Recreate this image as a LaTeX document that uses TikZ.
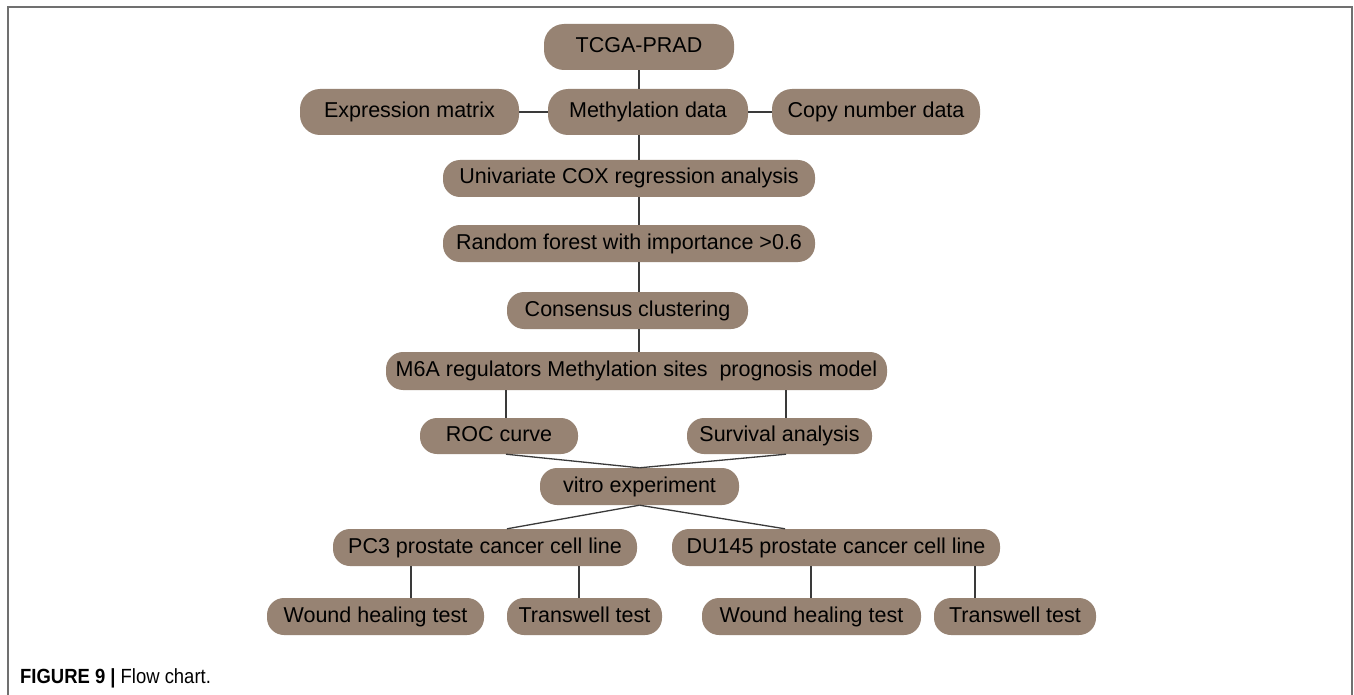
\documentclass[tikz,border=0pt]{standalone}
\usepackage{fontspec}
\setmainfont{Liberation Sans}
\newfontfamily\capfont[FakeStretch=0.9]{Liberation Sans}
\definecolor{boxfill}{HTML}{978373}
\definecolor{linecol}{HTML}{3A3A3A}
\definecolor{framecol}{HTML}{707070}
\begin{document}
\begin{tikzpicture}[x=1pt,y=-1pt,
  pill/.style={fill=boxfill, draw=none, rounded corners=17pt, inner sep=0pt,
    font=\fontsize{21.5}{25}\selectfont, text=black, text height=15.5pt, text depth=4.5pt},
  tallpill/.style={pill, minimum height=46pt, rounded corners=20pt},
  link/.style={draw=linecol, line width=1.3pt}]
\useasboundingbox (0,0) rectangle (1354,695);
\fill[white] (0,0) rectangle (1354,695);
\draw[framecol, line width=2pt] (8,695) -- (8,7) -- (1352,7) -- (1352,695);

\node[tallpill, minimum width=190pt] (tcga) at (639,47) {TCGA-PRAD};
\node[tallpill, minimum width=219pt] (expr) at (409.5,112) {Expression matrix};
\node[tallpill, minimum width=200pt] (meth) at (648,112) {Methylation data};
\node[tallpill, minimum width=208pt] (copy) at (876,112) {Copy number data};
\node[pill, minimum width=372pt, minimum height=37pt] (uni) at (629,178.5) {Univariate COX regression analysis};
\node[pill, minimum width=372pt, minimum height=37pt] (rf) at (629,243.5) {Random forest with importance {>}0.6};
\node[pill, minimum width=241pt, minimum height=37pt] (cons) at (627.5,310.5) {Consensus clustering};
\node[pill, minimum width=501pt, minimum height=38pt] (m6a) at (636.5,371) {M6A regulators Methylation sites\ \ prognosis model};
\node[pill, minimum width=158pt, minimum height=36pt] (roc) at (499,436) {ROC curve};
\node[pill, minimum width=185pt, minimum height=36pt] (surv) at (779.5,436) {Survival analysis};
\node[pill, minimum width=199pt, minimum height=37pt] (vitro) at (639.5,486.5) {vitro experiment};
\node[pill, minimum width=304pt, minimum height=37pt] (pc3) at (485,547.5) {PC3 prostate cancer cell line};
\node[pill, minimum width=328pt, minimum height=37pt] (du) at (836,547.5) {DU145 prostate cancer cell line};
\node[pill, minimum width=217pt, minimum height=37pt] (woundL) at (375.5,616.5) {Wound healing test};
\node[pill, minimum width=155pt, minimum height=37pt] (transL) at (584.5,616.5) {Transwell test};
\node[pill, minimum width=219pt, minimum height=37pt] (woundR) at (811.5,616.5) {Wound healing test};
\node[pill, minimum width=162pt, minimum height=37pt] (transR) at (1015,616.5) {Transwell test};

\coordinate (tx) at (639,0);
\coordinate (cl) at (506,0);
\coordinate (cr) at (786,0);
\coordinate (p1) at (411,0);
\coordinate (p2) at (579,0);
\coordinate (d1) at (811,0);
\coordinate (d2) at (975,0);
\coordinate (vl) at (507,0);
\coordinate (vr) at (785,0);

\draw[link] (tcga.south -| tx) -- (meth.north -| tx);
\draw[link] (expr.east) -- (meth.west);
\draw[link] (meth.east) -- (copy.west);
\draw[link] (meth.south -| tx) -- (uni.north -| tx);
\draw[link] (uni.south -| tx) -- (rf.north -| tx);
\draw[link] (rf.south -| tx) -- (cons.north -| tx);
\draw[link] (cons.south -| tx) -- (m6a.north -| tx);
\draw[link] (m6a.south -| cl) -- (roc.north -| cl);
\draw[link] (m6a.south -| cr) -- (surv.north -| cr);
\draw[link] (roc.south -| cl) -- (vitro.north);
\draw[link] (surv.south -| cr) -- (vitro.north);
\draw[link] (vitro.south) -- (pc3.north -| vl);
\draw[link] (vitro.south) -- (du.north -| vr);
\draw[link] (pc3.south -| p1) -- (woundL.north -| p1);
\draw[link] (pc3.south -| p2) -- (transL.north -| p2);
\draw[link] (du.south -| d1) -- (woundR.north -| d1);
\draw[link] (du.south -| d2) -- (transR.north -| d2);

\node[anchor=base west, inner sep=0pt, font=\capfont\fontsize{20.5}{24}\selectfont] (cap) at (20,683)
  {\textbf{FIGURE 9 |} Flow chart.};
\end{tikzpicture}
\end{document}
